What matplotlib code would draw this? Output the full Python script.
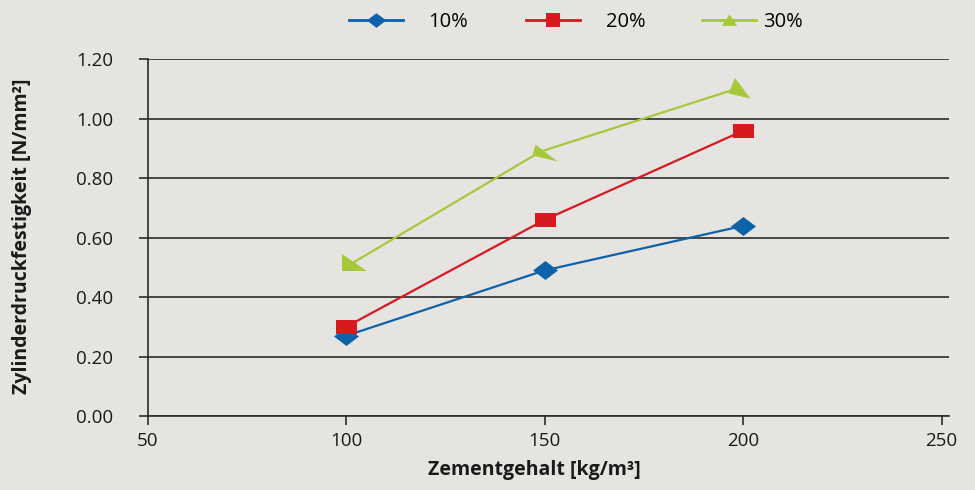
import matplotlib
matplotlib.use("Agg")
import numpy as np
import matplotlib.pyplot as plt
from matplotlib.markers import MarkerStyle
from matplotlib.path import Path
from matplotlib.lines import Line2D

# Data
zement = [100, 150, 200]
festigkeit_10 = [0.27, 0.49, 0.64]
festigkeit_20 = [0.30, 0.66, 0.96]
zement_30 = [101, 149, 198]
festigkeit_30 = [0.51, 0.89, 1.10]
labels = ["10%", "20%", "30%"]
x_ticks = [50, 100, 150, 200, 250]
y_ticks = [0.0, 0.2, 0.4, 0.6, 0.8, 1.0, 1.2]

BG = "#e5e4e0"
BLUE = "#0d62aa"
RED = "#d71920"
GREEN = "#a5c93a"
FONT = "Open Sans"
PX = 0.72  # points per pixel at 100 dpi

plt.rcParams["font.family"] = [FONT, "DejaVu Sans"]


def shape_marker(verts):
    """Closed path marker from pixel offsets; returns (marker, size in pt)."""
    verts = np.asarray(verts, float)
    size = 2 * np.abs(verts).max() * PX
    path = Path(np.vstack([verts, verts[:1]]), closed=True)
    return MarkerStyle(path), size


fig = plt.figure(figsize=(9.75, 4.90), dpi=100, facecolor=BG)
ax = fig.add_axes([0.1513, 0.151, 0.8225, 0.7276])
ax.set_facecolor(BG)

diamond, d_ms = shape_marker([(0, -9.5), (12.5, 0), (0, 9.5), (-12.5, 0)])
rect, r_ms = shape_marker([(-10.5, -7), (10.5, -7), (10.5, 7), (-10.5, 7)])

ax.plot(zement, festigkeit_10, color=BLUE, lw=1.6, marker=diamond, ms=d_ms,
        mec=BLUE, mfc=BLUE, mew=0, zorder=3)
ax.plot(zement, festigkeit_20, color=RED, lw=1.6, marker=rect, ms=r_ms,
        mec=RED, mfc=RED, mew=0, zorder=3)
ax.plot(zement_30, festigkeit_30, color=GREEN, lw=1.6, zorder=3)

# arrow-like triangles following the line
tri_shapes = [
    [(-8, 10), (-8, -7), (17, -7)],
    [(-6, 8), (-9, -3), (16, -9)],
    [(-0.5, 11.5), (-7, -4), (15, -9)],
]
for xv, yv, verts in zip(zement_30, festigkeit_30, tri_shapes):
    m, ms = shape_marker(verts)
    ax.plot([xv], [yv], linestyle="none", marker=m, ms=ms, color=GREEN,
            mec=GREEN, mew=0, zorder=4)

ax.set_xlim(50, 252)
ax.set_ylim(0, 1.2)
ax.set_xticks(x_ticks)
ax.set_yticks(y_ticks)
ax.set_yticklabels([f"{v:.2f}" for v in y_ticks])
ax.yaxis.grid(True, color="#2a2a2a", lw=1.2)
ax.set_axisbelow(True)
for s in ["top", "right"]:
    ax.spines[s].set_visible(False)
for s in ["left", "bottom"]:
    ax.spines[s].set_color("#2a2a2a")
    ax.spines[s].set_linewidth(1.2)
ax.tick_params(axis="y", direction="out", length=6.5, width=1.2, color="#2a2a2a",
               labelsize=13.5, pad=18, labelcolor="#1a1a1a")
ax.tick_params(axis="x", direction="out", length=6.5, width=1.2, color="#2a2a2a",
               labelsize=13.5, pad=5, labelcolor="#1a1a1a")

ax.set_xlabel("Zementgehalt [kg/m³]", fontsize=14, fontweight="bold",
              color="#1a1a1a")
ax.set_ylabel("Zylinderdruckfestigkeit [N/mm²]", fontsize=14, fontweight="bold",
              color="#1a1a1a")
ax.xaxis.set_label_coords(0.483, -0.151)
ax.yaxis.set_label_coords(-0.1565, 0.505)
ax.xaxis.label.set_va("center")
ax.yaxis.label.set_va("center")

# legend entries along the top
leg_diamond, _ = shape_marker([(0, -7.5), (10, 0), (0, 7.5), (-10, 0)])
leg_rect, _ = shape_marker([(-7.5, -7), (7.5, -7), (7.5, 7), (-7.5, 7)])
leg_tri, _ = shape_marker([(0, 8), (-10, -7), (10, -7)])
entries = [
    (Line2D([], [], color=BLUE, lw=2, marker=leg_diamond, ms=14, mew=0), labels[0], 0.358, 1.25),
    (Line2D([], [], color=RED, lw=2, marker=leg_rect, ms=10.5, mew=0), labels[1], 0.539, 1.3),
    (Line2D([], [], color=GREEN, lw=2, marker=leg_tri, ms=11, mew=0), labels[2], 0.720, 0.35),
]
for handle, lab, xpos, pad in entries:
    fig.legend([handle], [lab], loc="center left", bbox_to_anchor=(xpos, 0.955),
               frameon=False, fontsize=14.5, handlelength=2.7, handletextpad=pad,
               borderaxespad=0, borderpad=0)

fig.savefig("out.png", dpi=100, facecolor=BG)
